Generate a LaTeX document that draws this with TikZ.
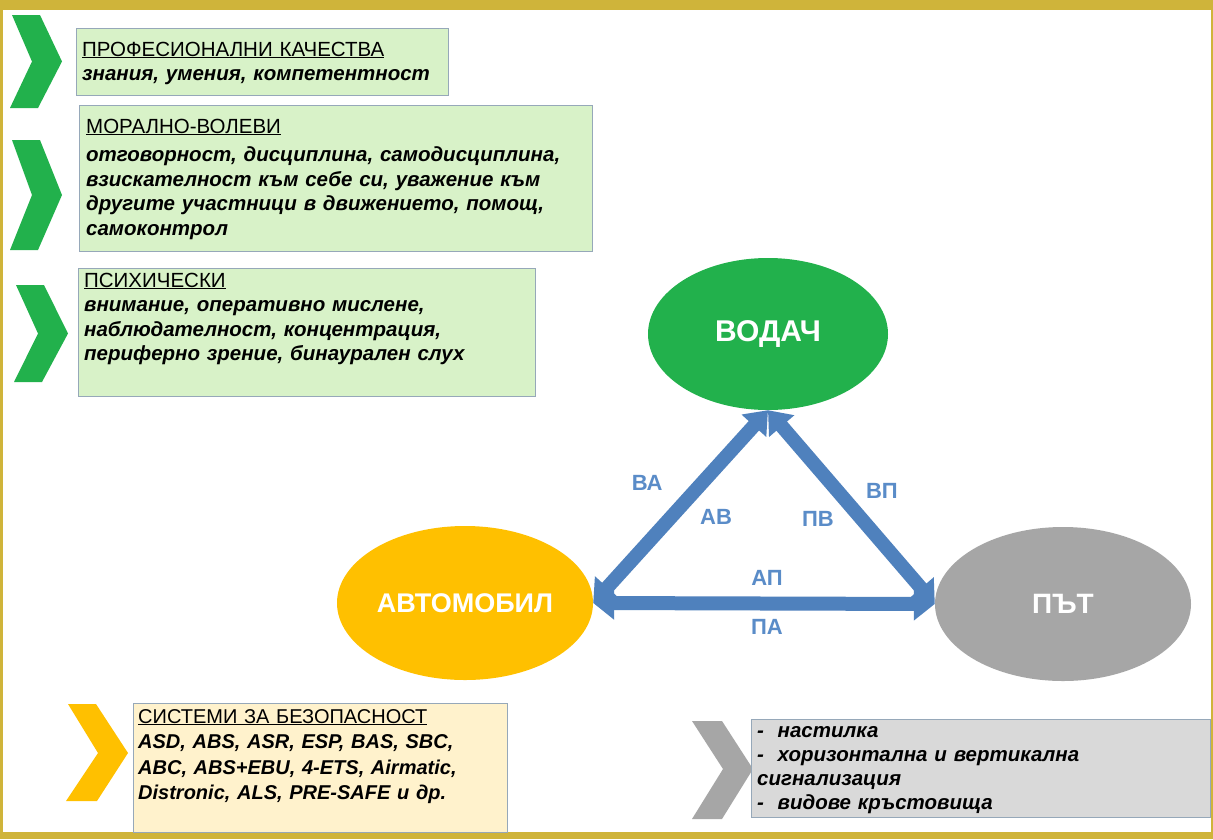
\documentclass[tikz,border=0pt]{standalone}
\usepackage{fontspec}
\setmainfont{Liberation Sans}
\usetikzlibrary{shapes.geometric,arrows.meta}

\definecolor{framegold}{RGB}{207,180,58}
\definecolor{leafgreen}{RGB}{34,177,76}
\definecolor{boxgreen}{RGB}{216,242,200}
\definecolor{boxline}{RGB}{150,168,185}
\definecolor{caryellow}{RGB}{255,192,0}
\definecolor{boxyellow}{RGB}{255,242,204}
\definecolor{roadgray}{RGB}{166,166,166}
\definecolor{boxgray}{RGB}{217,217,217}
\definecolor{linkblue}{RGB}{79,129,189}
\definecolor{labelblue}{RGB}{90,140,200}

\newcommand\boxhead[1]{\underline{#1}}

\begin{document}
\begin{tikzpicture}[x=1pt, y=-1pt,
    infobox/.style={draw=boxline, line width=0.8pt},
    boxtext/.style={anchor=base west, inner sep=0pt, text width=#1, align=left, font=\fontsize{20.5}{24.5}\selectfont},
    actor/.style={ellipse, inner sep=0pt, text=white},
    link/.style={draw=linkblue, line width=14pt, {Triangle[width=32pt,length=21pt]}-{Triangle[width=32pt,length=21pt]}},
    linklabel/.style={text=labelblue, inner sep=0pt, font=\bfseries\fontsize{22}{24}\selectfont}]

      \useasboundingbox (0,0) rectangle (1213,839);

      % Frame
      \fill[framegold] (0,0) rectangle (1213,839);
      \fill[white] (3,10) rectangle (1211,832);

      % Chevrons
      \foreach \x/\t/\h/\d in {10/15/93/52, 10/140/110/52, 14/285/97/54}
        \fill[leafgreen] (\x+2,\t) -- ++(28,0) -- (\x+\d,\t+\h/2) -- (\x+28,\t+\h) -- (\x,\t+\h) -- (\x+\d-30,\t+\h/2) -- cycle;
      \fill[caryellow] (68,704) -- (96,704) -- (128,753) -- (97,801) -- (66,801) -- (98,753) -- cycle;
      \fill[roadgray] (692,721) -- (722,721) -- (753,769) -- (722,819) -- (692,819) -- (723,769) -- cycle;

      % Boxes
      \filldraw[infobox, fill=boxgreen] (76,28) rectangle (448,95);
      \filldraw[infobox, fill=boxgreen] (79,105) rectangle (592,251);
      \filldraw[infobox, fill=boxgreen] (78,268) rectangle (535,396);
      \filldraw[infobox, fill=boxyellow] (133,703) rectangle (507,832);
      \filldraw[infobox, fill=boxgray] (751,719) rectangle (1210,817);

      % Box texts
      \node[boxtext=360pt] (prof) at (82,56) {\boxhead{ПРОФЕСИОНАЛНИ КАЧЕСТВА}\\
        \textbf{\textit{знания, умения, компетентност}}};
      \node[boxtext=500pt] (moral) at (86,133) {\boxhead{МОРАЛНО-ВОЛЕВИ}\\[4pt]
        \textbf{\textit{отговорност, дисциплина, самодисциплина,\\
        взискателност към себе си, уважение към\\
        другите участници в движението, помощ,\\
        самоконтрол}}};
      \node[boxtext=445pt] (psych) at (84,287) {\boxhead{ПСИХИЧЕСКИ}\\
        \textbf{\textit{внимание, оперативно мислене,\\
        наблюдателност, концентрация,\\
        периферно зрение, бинаурален слух}}};
      \node[boxtext=366pt, font=\fontsize{20}{25.5}\selectfont] (safety) at (138,723) {\boxhead{СИСТЕМИ ЗА БЕЗОПАСНОСТ}\\
        \textbf{\textit{ASD, ABS, ASR, ESP, BAS, SBC,\\
        ABC, ABS+EBU, 4-ETS, Airmatic,\\
        Distronic, ALS, PRE-SAFE и др.}}};
      \node[boxtext=450pt, font=\fontsize{20.5}{24}\selectfont] (surface) at (757,737) {\textbf{\textit{-\ \ настилка\\
        -\ \ хоризонтална и вертикална\\
        сигнализация\\
        -\ \ видове кръстовища}}};

      % Participants
      \node[actor, fill=leafgreen, minimum width=240pt, minimum height=152pt, font=\bfseries\fontsize{30}{32}\selectfont] (drv) at (768,334) {ВОДАЧ};
      \node[actor, fill=caryellow, minimum width=256pt, minimum height=154pt, font=\bfseries\fontsize{27}{30}\selectfont] (car) at (465,603) {АВТОМОБИЛ};
      \node[actor, fill=roadgray, minimum width=256pt, minimum height=154pt, font=\bfseries\fontsize{28}{30}\selectfont] (road) at (1063,604) {ПЪТ};

      % Links
      \draw[link] (car.east) -- (drv.south)
        node[linklabel, pos=0.5, xshift=-33.5pt, yshift=23.5pt] (ba) {ВА}
        node[linklabel, pos=0.5, xshift=35.5pt, yshift=-10.5pt] (ab) {АВ};
      \draw[link] (drv.south) -- (road.west)
        node[linklabel, pos=0.5, xshift=30.5pt, yshift=16pt] (bp) {ВП}
        node[linklabel, pos=0.5, xshift=-33.5pt, yshift=-12pt] (pb) {ПВ};
      \draw[link] (car.east) -- (road.west)
        node[linklabel, pos=0.5, xshift=3pt, yshift=25.5pt] (ap) {АП}
        node[linklabel, pos=0.5, xshift=3pt, yshift=-23.5pt] (pa) {ПА};

  \end{tikzpicture}
\end{document}
